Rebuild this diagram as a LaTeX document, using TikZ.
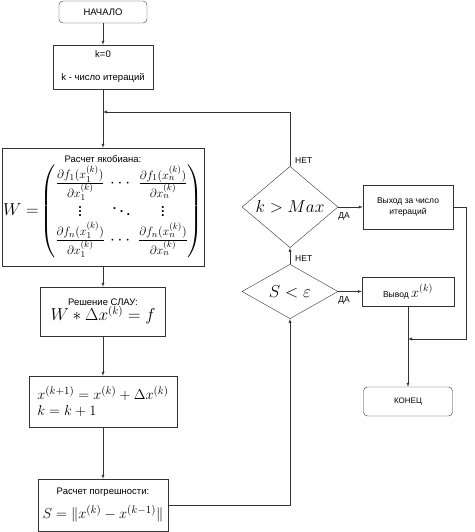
\documentclass[tikz,border=0pt]{standalone}
\usepackage[no-math]{fontspec}
\setmainfont{Liberation Sans}
\usepackage{amsmath}
\usetikzlibrary{arrows,shapes}
\newcommand{\fsz}[1]{\fontsize{#1}{#1}\selectfont}
\tikzstyle{block}=[draw=black!80,rectangle,inner sep=0pt,align=center,font=\fontsize{9.5}{11}\selectfont]
\tikzstyle{small block}=[block,font=\fontsize{8.5}{11}\selectfont]
\tikzstyle{terminal}=[block,rounded corners=4pt]
\tikzstyle{cond}=[draw=black!80,diamond,inner sep=0pt]
\tikzstyle{answer}=[inner sep=0pt,font=\fontsize{8.5}{10}\selectfont]
\tikzstyle{edge}=[draw=black!80,-latex]

\begin{document}
\begin{tikzpicture}[x=1pt,y=-1pt]
    \useasboundingbox (0,0) rectangle (474,532);
    % Left column: the iteration steps
    \node[terminal,minimum width=88,minimum height=22] (start) at (103,12) {НАЧАЛО};
    \node[block,minimum width=100,minimum height=44] (init) at (103,67) {k=0\\[12pt]k - число итераций};
    \node[block,minimum width=202,minimum height=118] (jac) at (103,207)
        {Расчет якобиана:\\[1pt]
        {\fsz{16}$W=$}\,{\fsz{18}\setlength{\arraycolsep}{2.5pt}$\begin{pmatrix}
        \frac{\partial f_1(x_1^{(k)})}{\partial x_1^{(k)}} & \cdots & \frac{\partial f_1(x_n^{(k)})}{\partial x_n^{(k)}}\\
        \vdots & \ddots & \vdots\\
        \frac{\partial f_n(x_1^{(k)})}{\partial x_1^{(k)}} & \cdots & \frac{\partial f_n(x_n^{(k)})}{\partial x_n^{(k)}}
        \end{pmatrix}$}};
    \node[block,minimum width=125,minimum height=49] (slau) at (103,311.5) {Решение СЛАУ:\\[-1pt]\fsz{16}$W*\Delta x^{(k)}=f$};
    \node[block,align=left,minimum width=148,minimum height=51] (upd) at (103,401.5)
        {\fsz{15}$x^{(k+1)}=x^{(k)}+\Delta x^{(k)}$\\[4pt]\fsz{15}$k=k+1$};
    \node[block,minimum width=130,minimum height=52] (err) at (103,505) {Расчет погрешности:\\[8pt]\fsz{15}$S=\|x^{(k)}-x^{(k-1)}\|$};

    % Conditions
    \node[cond,minimum width=96,minimum height=58] (kmax) at (290,207) {\fsz{16}$k>Max$};
    \node[cond,minimum width=96,minimum height=51] (seps) at (290,291.5) {\fsz{17}$S<\varepsilon$};

    % Right column: exits
    \node[small block,minimum width=90,minimum height=44] (exit) at (408,207) {Выход за число\\итераций};
    \node[small block,minimum width=92,minimum height=29] (out) at (408,291.5) {Вывод {\fsz{14}$x^{(k)}$}};
    \node[terminal,font=\fontsize{8}{10}\selectfont,minimum width=89,minimum height=29] (end) at (408,401.5) {КОНЕЦ};

    \coordinate (m1) at (103,112);
    \coordinate (c1) at (466,207);
    \coordinate (m2) at (408,339);

    % Connect the blocks
    \foreach \source/\dest in {start/init, init/jac, jac/slau, slau/upd, upd/err, out/end}
        \path[edge] (\source) -- (\dest);
    \path[edge] (err.east) -| (seps.south);
    \path[edge] (seps) -- node[answer,at start,anchor=south west,xshift=5pt,yshift=2pt] {НЕТ} (kmax);
    \path[edge] (kmax.north) |- node[answer,at start,anchor=south west,xshift=5pt,yshift=2pt] {НЕТ} (m1);
    \path[edge] (kmax) -- node[answer,at start,anchor=north west,yshift=-5pt] {ДА} (exit);
    \path[edge] (seps) -- node[answer,at start,anchor=north west,yshift=-5pt] {ДА} (out);
    \path[edge] (exit.east) -- (c1) |- (m2);
\end{tikzpicture}
\end{document}
